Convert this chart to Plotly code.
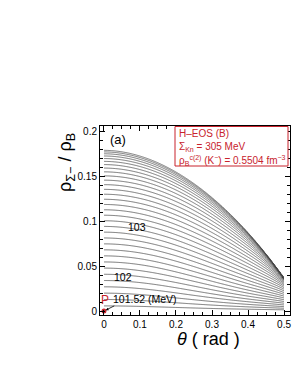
import numpy as np
import plotly.graph_objects as go

# ---- chart values ----
x_tick_vals = [0, 0.1, 0.2, 0.3, 0.4, 0.5]
x_tick_text = ["0", "0.1", "0.2", "0.3", "0.4", "0.5"]
y_tick_vals = [0, 0.05, 0.1, 0.15, 0.2]
y_tick_text = ["0", "0.05", "0.1", "0.15", "0.2"]

# energy levels of the contour lines (MeV)
level_start = 101.6
level_end = 104.8
level_step = 0.1

# energy surface parameters (shape fitted to the drawn contours)
E0 = 101.52          # energy at point P (MeV)
slope0 = 12.2        # dE/drho at small rho, theta = 0
log_coef = 0.328     # stiffness near the upper bound
rho_bound0 = 0.185   # upper bound of rho at theta = 0
theta_bound = 0.5625
bound_power = 1.9
theta_width = 0.28
rho_soft = 0.05

# labelled contours: (theta, rho, text)
label_theta = [0.091, 0.053, 0.114]
label_rho = [0.093, 0.038, 0.0133]
label_text = ["103", "102", "101.52 (MeV)"]

point_P = (0.0, 0.0)

# ---- surface ----
theta = np.linspace(0, 0.5, 251)
rho = np.linspace(0, 0.2, 801)
TH, RH = np.meshgrid(theta, rho)
rho_max = rho_bound0 * (1 - (TH / theta_bound) ** bound_power)
factor = 1 + (TH / theta_width) ** 2 * rho_soft / (rho_soft + RH)
arg = 1 - RH / np.where(rho_max > 0, rho_max, 1e-9)
E = E0 + slope0 * RH * factor - log_coef * np.log(np.clip(arg, 1e-12, None))
E = np.where(arg > 0, E, E0 + 10)
E = np.minimum(E, E0 + 10)

FONT = "Liberation Sans, Arial, Helvetica, sans-serif"
RED = "rgb(200,35,45)"
LINE = "#474747"

fig = go.Figure()
fig.add_trace(go.Contour(
    x=theta, y=rho, z=E,
    contours=dict(start=level_start, end=level_end + level_step / 2, size=level_step,
                  coloring="lines", showlabels=False),
    colorscale=[[0, LINE], [1, LINE]],
    line=dict(width=0.75, smoothing=1.0),
    showscale=False, hoverinfo="skip",
))

fig.add_trace(go.Scatter(
    x=[point_P[0]], y=[point_P[1]], mode="markers",
    marker=dict(color=RED, size=5), showlegend=False, hoverinfo="skip",
))

axis_common = dict(
    showline=True, linecolor="black", linewidth=1, mirror="allticks",
    ticks="inside", ticklen=5, tickcolor="black", tickwidth=1,
    showgrid=False, zeroline=False,
    tickfont=dict(family=FONT, size=10, color="black"),
)
fig.update_xaxes(range=[-0.011, 0.5166], tickvals=x_tick_vals, ticktext=x_tick_text,
                 minor=dict(dtick=0.025, tick0=0, ticks="inside", ticklen=3, tickcolor="black"),
                 **axis_common)
fig.update_yaxes(range=[-0.0044, 0.2056], tickvals=y_tick_vals, ticktext=y_tick_text,
                 minor=dict(dtick=0.01, tick0=0, ticks="inside", ticklen=3, tickcolor="black"),
                 **axis_common)


def px(xp):
    return (xp - 92) / 190


def py(yp):
    return (307 - yp) / 189


ann = []
# contour labels
for tx, ty, tt in zip(label_theta, label_rho, label_text):
    ann.append(dict(x=tx, y=ty, xref="x", yref="y", text=tt, showarrow=False,
                    xanchor="center", yanchor="middle",
                    font=dict(family=FONT, size=10.5, color="black")))
# P label and arrow
ann.append(dict(x=0.002, y=0.0122, xref="x", yref="y", text="P", showarrow=False,
                xanchor="center", yanchor="middle",
                font=dict(family=FONT, size=12, color=RED)))
ann.append(dict(x=0.005, y=0.001, xref="x", yref="y", text="", showarrow=True,
                ax=10, ay=-5, arrowhead=2, arrowsize=0.7, arrowwidth=0.8, arrowcolor="black"))
# (a)
ann.append(dict(x=px(110), y=py(131), xref="paper", yref="paper",
                xanchor="center", yanchor="middle",
                text="(a)", showarrow=False, font=dict(family=FONT, size=13, color="black")))
# red box text
box_lines = ["H\u2013EOS (B)",
             "\u03a3<sub>Kn</sub> = 305 MeV",
             "\u03c1<sub>B</sub><sup>c(2)</sup> (K<sup>\u2212</sup>) = 0.5504 fm<sup>\u22123</sup>"]
box_y = [125, 139, 152]
for t, yy in zip(box_lines, box_y):
    ann.append(dict(x=px(169), y=py(yy), xref="paper", yref="paper",
                    xanchor="left", yanchor="middle", text=t, showarrow=False,
                    font=dict(family=FONT, size=10, color=RED)))
# axis titles
ann.append(dict(x=px(58), y=py(155), xref="paper", yref="paper",
                xanchor="center", yanchor="middle",
                text="\u03c1<sub>\u03a3\u2212</sub> / \u03c1<sub>B</sub>", textangle=-90,
                showarrow=False, font=dict(family=FONT, size=18, color="black")))
ann.append(dict(x=px(200), y=py(331), xref="paper", yref="paper",
                xanchor="center", yanchor="middle",
                text="<i>\u03b8</i> ( rad )", showarrow=False,
                font=dict(family=FONT, size=18, color="black")))

fig.update_layout(
    width=303, height=392,
    margin=dict(l=92, r=21, t=118, b=85),
    paper_bgcolor="white", plot_bgcolor="white",
    showlegend=False, annotations=ann,
    shapes=[dict(type="rect", xref="paper", yref="paper",
                 x0=px(167), x1=px(280),
                 y0=py(158), y1=py(118.5),
                 line=dict(color=RED, width=1), fillcolor="white", layer="above")],
)
fig.write_html("out.html")
